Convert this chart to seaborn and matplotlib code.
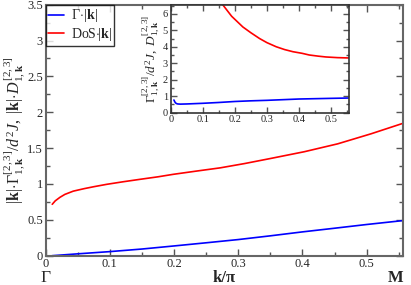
import numpy as np
import pandas as pd
import matplotlib
matplotlib.use("Agg")
import matplotlib.pyplot as plt
from matplotlib.ticker import MultipleLocator
import seaborn as sns

# ---- data ----
k_red = [0.0103, 0.015, 0.0223, 0.03, 0.043, 0.06, 0.075, 0.095, 0.12, 0.147, 0.175,
         0.199, 0.235, 0.272, 0.31, 0.35, 0.403, 0.455, 0.507, 0.557]
dos_k = [0.717, 0.765, 0.814, 0.855, 0.9, 0.935, 0.962, 0.995, 1.03, 1.065, 1.1,
         1.135, 1.18, 1.225, 1.285, 1.355, 1.45, 1.56, 1.70, 1.847]

k_blue = [0.01, 0.05, 0.1, 0.15, 0.2, 0.25, 0.3, 0.35, 0.4, 0.45, 0.5, 0.557]
gamma_k = [0.0, 0.026, 0.057, 0.093, 0.136, 0.18, 0.225, 0.277, 0.332, 0.383, 0.435, 0.49]

# inset
k_in_red = [0.12, 0.14, 0.163, 0.19, 0.225, 0.25, 0.277, 0.3, 0.329, 0.355, 0.381,
            0.41, 0.432, 0.46, 0.484, 0.52, 0.555]
dos_in = [8.6, 7.5, 6.53, 5.85, 5.2, 4.85, 4.5, 4.25, 4.0, 3.83, 3.7,
          3.6, 3.5, 3.43, 3.38, 3.34, 3.32]

k_in_blue = [0.01, 0.013, 0.017, 0.022, 0.03, 0.05, 0.1, 0.15, 0.2, 0.25, 0.3,
             0.35, 0.4, 0.45, 0.5, 0.555]
gamma_in = [0.77, 0.65, 0.56, 0.53, 0.52, 0.53, 0.57, 0.62, 0.68, 0.72, 0.75,
            0.79, 0.83, 0.85, 0.87, 0.89]

xmax = 0.557

sns.set_style("ticks")
plt.rcParams['font.family'] = ['Liberation Serif', 'DejaVu Serif']
plt.rcParams['mathtext.fontset'] = 'custom'
plt.rcParams['mathtext.rm'] = 'Liberation Serif'
plt.rcParams['mathtext.it'] = 'Liberation Serif:italic'
plt.rcParams['mathtext.bf'] = 'Liberation Serif:bold'

fig = plt.figure(figsize=(4.11, 2.85), dpi=100)
ax = fig.add_axes([0.111, 0.1028, 0.870, 0.8807])

df_b = pd.DataFrame({"k": k_blue, "v": gamma_k})
df_r = pd.DataFrame({"k": k_red, "v": dos_k})
sns.lineplot(data=df_b, x="k", y="v", ax=ax, color="#0000ff", lw=1.2,
             label=r"$\Gamma\!\cdot\!|\mathbf{k}|$")
sns.lineplot(data=df_r, x="k", y="v", ax=ax, color="#ff0000", lw=1.2,
             label=r"DoS$\cdot\!|\mathbf{k}|$")

ax.set_xlim(0, xmax)
ax.set_ylim(0, 3.5)
ax.set_xticks([0, 0.1, 0.2, 0.3, 0.4, 0.5])
ax.set_xticklabels(["0", "0.1", "0.2", "0.3", "0.4", "0.5"])
ax.set_yticks([0, 0.5, 1, 1.5, 2, 2.5, 3, 3.5])
ax.set_yticklabels(["0", "0.5", "1", "1.5", "2", "2.5", "3", "3.5"])
ax.xaxis.set_minor_locator(MultipleLocator(0.05))
ax.yaxis.set_minor_locator(MultipleLocator(0.25))
ax.tick_params(which="both", direction="in", top=True, right=True, color="#555555")
ax.tick_params(which="major", length=5, width=1, labelsize=9, pad=2)
ax.tick_params(which="minor", length=3, width=1)
for s in ax.spines.values():
    s.set_color("#666666")
    s.set_linewidth(1.5)
ax.set_xlabel("")
ax.set_ylabel(r"$|\mathbf{k}|\!\cdot\!\Gamma^{[2,3]}_{1,\mathbf{k}}/d^2J,\ |\mathbf{k}|\!\cdot\! D^{[2,3]}_{1,\mathbf{k}}$",
              fontsize=11.5)
ax.yaxis.set_label_coords(-0.048, 0.5)

ax.text(0.5, -0.105, "k/π", transform=ax.transAxes, ha="center", va="baseline",
        fontsize=12, fontweight="bold")
ax.text(0.0, -0.105, "Γ", transform=ax.transAxes, ha="center", va="baseline", fontsize=12.5)
ax.text(1.0, -0.105, "M", transform=ax.transAxes, ha="right", va="baseline",
        fontsize=12, fontweight="bold")

leg = ax.legend(loc="upper left", borderaxespad=0, fancybox=False, fontsize=10,
                handlelength=1.1, handletextpad=0.5, borderpad=0.2, labelspacing=0.1)
leg.get_frame().set_edgecolor("black")
leg.get_frame().set_linewidth(1.0)

# inset
axi = fig.add_axes([170.7 / 411, 1 - 112.7 / 285, (349.3 - 170.7) / 411, (112.7 - 4.7) / 285])
df_ib = pd.DataFrame({"k": k_in_blue, "v": gamma_in})
df_ir = pd.DataFrame({"k": k_in_red, "v": dos_in})
sns.lineplot(data=df_ib, x="k", y="v", ax=axi, color="#0000ff", lw=1.2)
sns.lineplot(data=df_ir, x="k", y="v", ax=axi, color="#ff0000", lw=1.2)
axi.set_xlim(0, xmax)
axi.set_ylim(0, 6.55)
axi.set_xticks([0, 0.1, 0.2, 0.3, 0.4, 0.5])
axi.set_xticklabels(["0", "0.1", "0.2", "0.3", "0.4", "0.5"])
axi.set_yticks([0, 1, 2, 3, 4, 5, 6])
axi.set_yticklabels(["0", "1", "2", "3", "4", "5", "6"])
axi.xaxis.set_minor_locator(MultipleLocator(0.05))
axi.yaxis.set_minor_locator(MultipleLocator(0.5))
axi.tick_params(which="both", direction="in", top=True, right=True, color="#555555")
axi.tick_params(which="major", length=4, width=1, labelsize=7.5, pad=2)
axi.tick_params(which="minor", length=2, width=1)
for s in axi.spines.values():
    s.set_color("#333333")
    s.set_linewidth(1.2)
axi.set_xlabel("")
axi.set_ylabel(r"$\Gamma^{[2,3]}_{1,\mathbf{k}}/d^2J,\ D^{[2,3]}_{1,\mathbf{k}}$", fontsize=9.5, labelpad=1)

fig.savefig("out.png", dpi=100)
